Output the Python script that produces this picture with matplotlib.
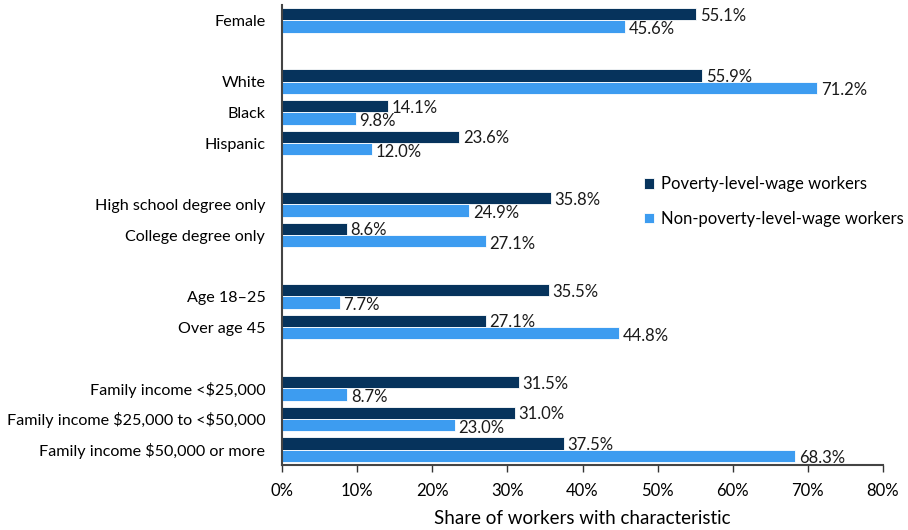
import numpy as np
import matplotlib.pyplot as plt

plt.rcParams['font.family'] = ['Lato', 'Open Sans', 'DejaVu Sans']

categories = ["Female", "White", "Black", "Hispanic", "High school degree only",
              "College degree only", "Age 18\u201325", "Over age 45",
              "Family income <\\$25,000", "Family income \\$25,000 to <\\$50,000",
              "Family income \\$50,000 or more"]
positions = [0, 2, 3, 4, 6, 7, 9, 10, 12, 13, 14]
poverty = [55.1, 55.9, 14.1, 23.6, 35.8, 8.6, 35.5, 27.1, 31.5, 31.0, 37.5]
non_poverty = [45.6, 71.2, 9.8, 12.0, 24.9, 27.1, 7.7, 44.8, 8.7, 23.0, 68.3]

dark = '#06335c'
light = '#3d9cf0'

fig = plt.figure(figsize=(9.08, 5.30), dpi=100)
ax = fig.add_axes([282/908, 65/530, 601/908, 460/530])

pos = np.array(positions)
h = 0.4
ax.barh(pos - h/2, poverty, height=h, color=dark, edgecolor='white', linewidth=0.6,
        label='Poverty-level-wage workers')
ax.barh(pos + h/2, non_poverty, height=h, color=light, edgecolor='white', linewidth=0.6,
        label='Non-poverty-level-wage workers')

fs = 12
for p, v in zip(pos, poverty):
    ax.text(v + 0.5, p - h/2 + 0.05, f"{v:.1f}%", va='center', ha='left', fontsize=fs, color='#1a1a1a')
for p, v in zip(pos, non_poverty):
    ax.text(v + 0.5, p + h/2 + 0.08, f"{v:.1f}%", va='center', ha='left', fontsize=fs, color='#1a1a1a')

ax.set_ylim(14.5, -0.5)
ax.set_xlim(0, 80)
ax.set_yticks(positions)
ax.set_yticklabels(categories, fontsize=11.6)
ax.tick_params(axis='y', length=0, pad=12)
ax.set_xticks(np.arange(0, 81, 10))
ax.set_xticklabels([f"{t}%" for t in range(0, 81, 10)], fontsize=fs)
ax.tick_params(axis='x', length=5, width=1, color='#333333', pad=8)
ax.set_xlabel("Share of workers with characteristic", fontsize=13.5, labelpad=8)

for s in ['top', 'right']:
    ax.spines[s].set_visible(False)
ax.spines['left'].set_color('#444444')
ax.spines['left'].set_linewidth(1.5)
ax.spines['bottom'].set_color('#444444')
ax.spines['bottom'].set_linewidth(1.5)

ax.legend(loc='upper left', bbox_to_anchor=(0.578, 0.66), frameon=False, fontsize=fs,
          handlelength=0.6, handleheight=0.6, handletextpad=0.4, labelspacing=1.1)

fig.savefig('out.png', dpi=100)
